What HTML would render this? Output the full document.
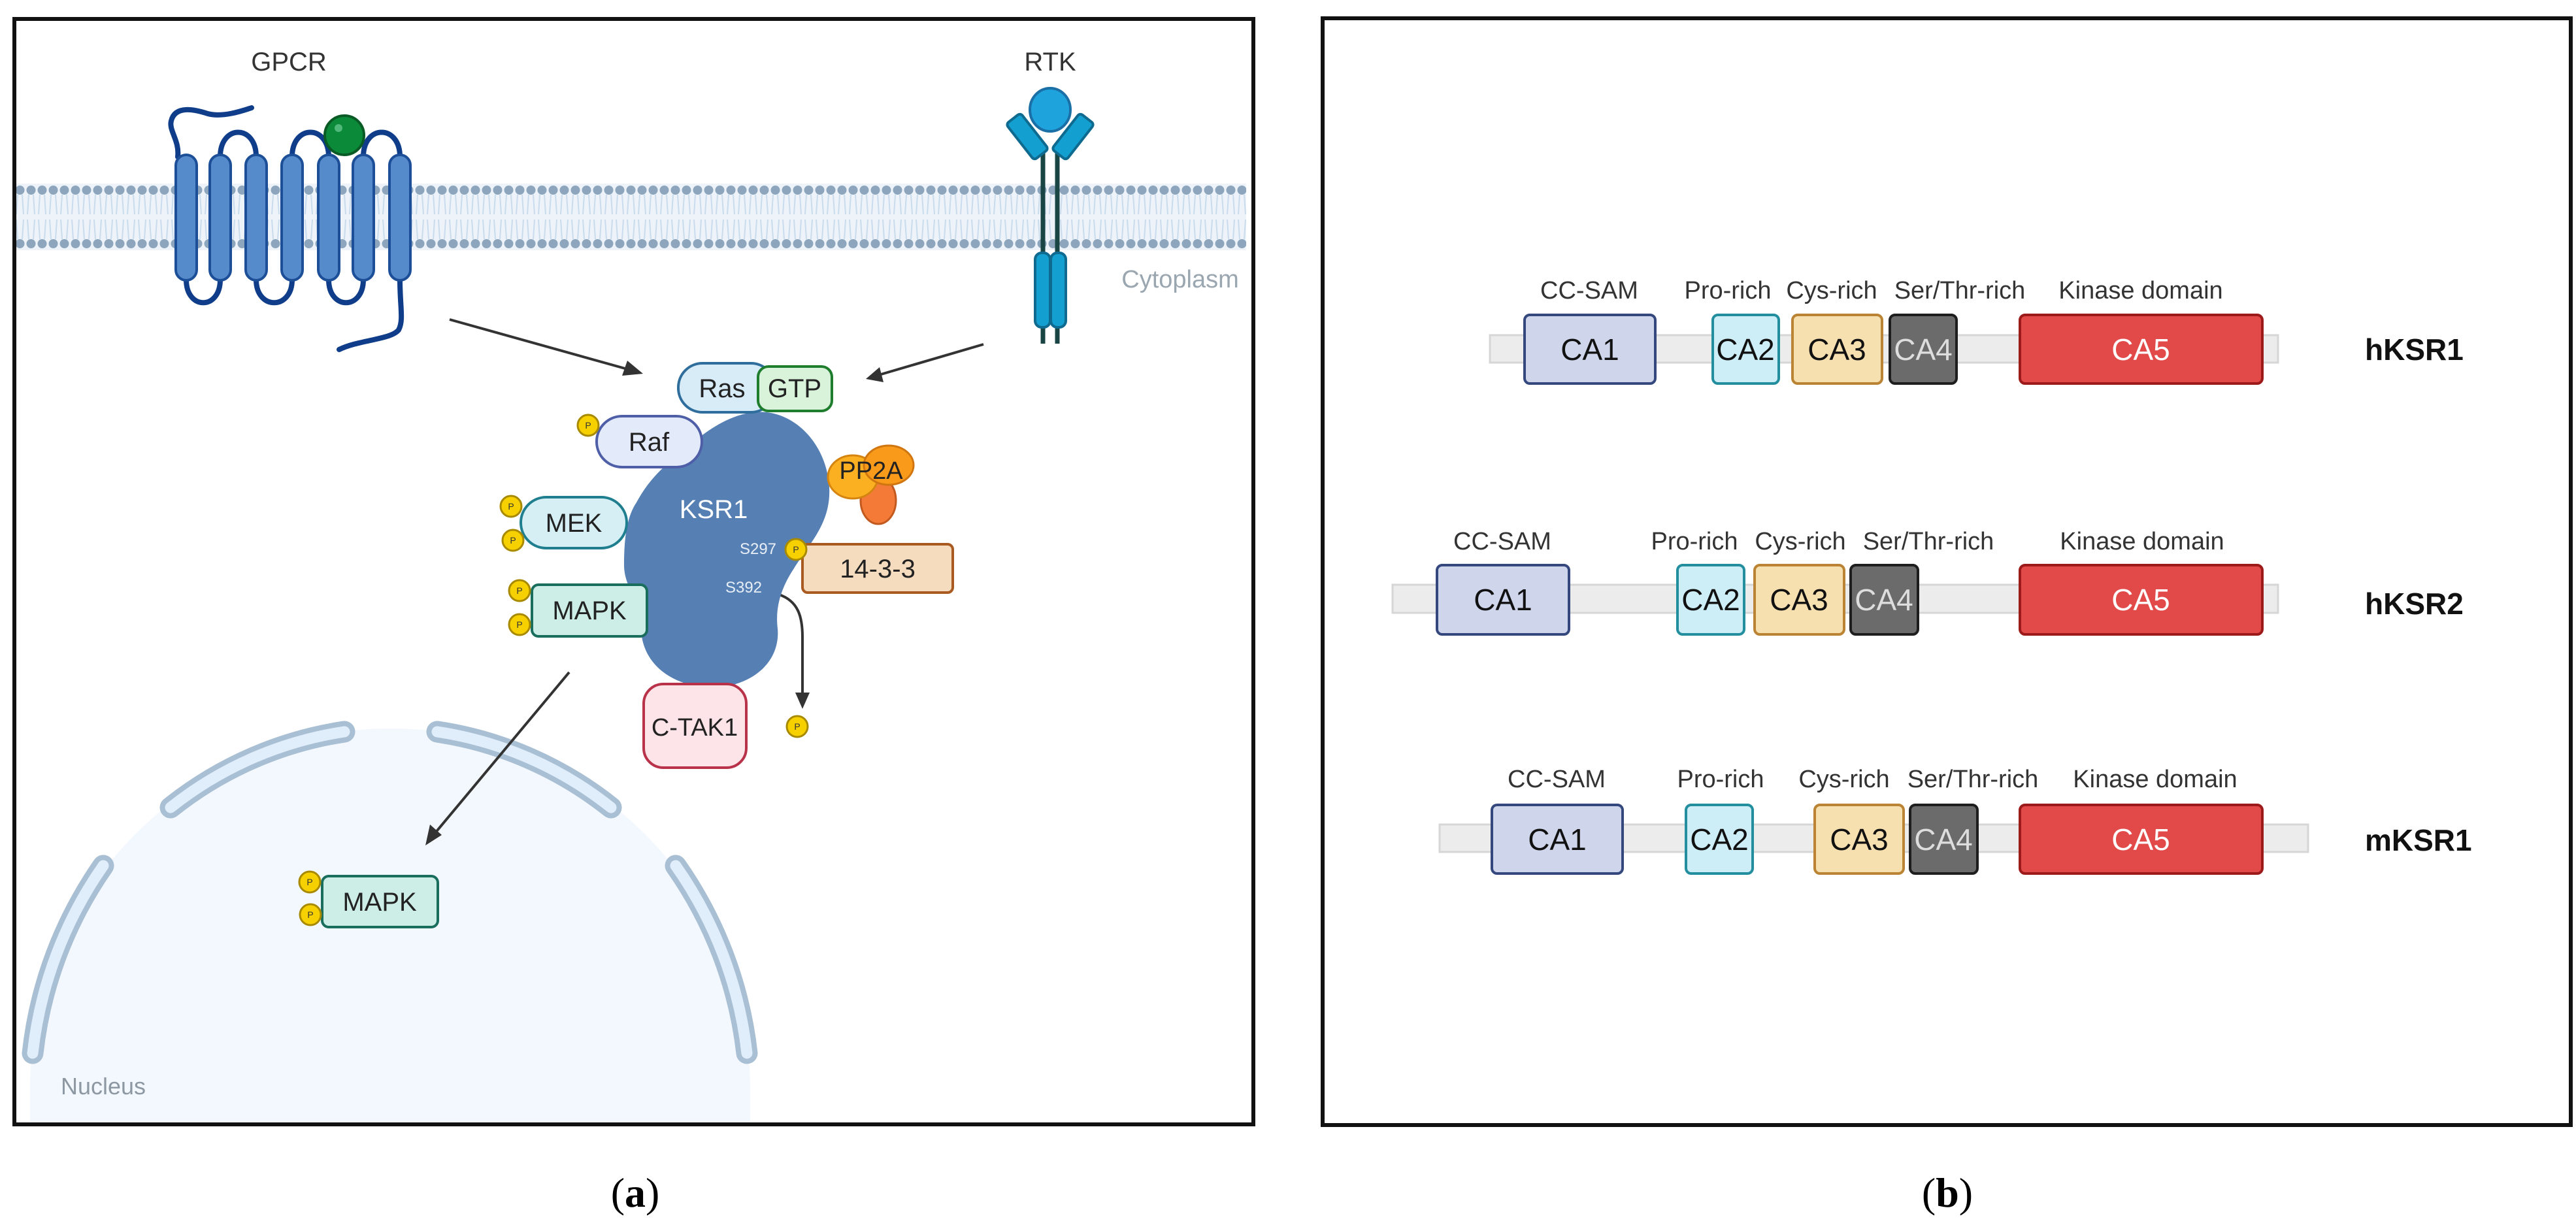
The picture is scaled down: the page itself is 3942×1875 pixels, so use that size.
<!DOCTYPE html>
<html><head><meta charset="utf-8"><style>
html,body{margin:0;padding:0;background:#fff;width:3942px;height:1875px;overflow:hidden;}
svg{display:block;}
text{font-family:"Liberation Sans",sans-serif;}
</style></head><body>
<svg width="3942" height="1875" viewBox="0 0 3942 1875" xmlns="http://www.w3.org/2000/svg">
<defs>
<pattern id="lip" x="22" y="0" width="17" height="400" patternUnits="userSpaceOnUse">
<line x1="5" y1="298" x2="3" y2="328" stroke="#c9dbec" stroke-width="2"/>
<line x1="12" y1="298" x2="14" y2="328" stroke="#c9dbec" stroke-width="2"/>
<line x1="3" y1="336" x2="5" y2="366" stroke="#c9dbec" stroke-width="2"/>
<line x1="14" y1="336" x2="12" y2="366" stroke="#c9dbec" stroke-width="2"/>
<circle cx="8.5" cy="291" r="7" fill="#8ea6bd"/>
<circle cx="8.5" cy="373" r="7" fill="#8ea6bd"/>
</pattern>
<clipPath id="lp"><rect x="22" y="29" width="1896" height="1692"/></clipPath>
</defs>

<!-- LEFT PANEL -->
<g clip-path="url(#lp)">
<rect x="22" y="29" width="1896" height="1692" fill="#fff"/>
<rect x="22" y="281" width="1885" height="102" fill="#edf3f9"/>
<rect x="22" y="281" width="1885" height="102" fill="url(#lip)"/>
<!-- nucleus -->
<circle cx="597" cy="1666" r="551" fill="#f3f8fe"/>
<rect x="46" y="1666" width="1102" height="60" fill="#f3f8fe"/>
<g fill="none" stroke-linecap="round">
<path d="M261 1236 A560 560 0 0 1 527 1120" stroke="#a9bfd3" stroke-width="33"/>
<path d="M261 1236 A560 560 0 0 1 527 1120" stroke="#e0eefb" stroke-width="17"/>
<path d="M669 1120 A560 560 0 0 1 935 1236" stroke="#a9bfd3" stroke-width="33"/>
<path d="M669 1120 A560 560 0 0 1 935 1236" stroke="#e0eefb" stroke-width="17"/>
<path d="M158 1325 A620 620 0 0 0 50 1612" stroke="#a9bfd3" stroke-width="33"/>
<path d="M158 1325 A620 620 0 0 0 50 1612" stroke="#e0eefb" stroke-width="17"/>
<path d="M1034 1325 A620 620 0 0 1 1143 1612" stroke="#a9bfd3" stroke-width="33"/>
<path d="M1034 1325 A620 620 0 0 1 1143 1612" stroke="#e0eefb" stroke-width="17"/>
</g>
</g>
<rect x="22" y="29" width="1896" height="1692" fill="none" stroke="#111" stroke-width="6"/>

<!-- GPCR -->
<text x="442" y="108" font-size="40" fill="#333" text-anchor="middle">GPCR</text>
<g fill="none" stroke="#0f3d8a" stroke-width="8" stroke-linecap="round">
<path d="M272 240 C275 215 258 200 262 185 C268 160 300 168 318 174 C340 180 370 170 385 165"/>
<path d="M337 240 C337 190 392 190 392 240"/>
<path d="M447 240 C447 190 503 190 503 240"/>
<path d="M556 240 C556 190 612 190 612 240"/>
<path d="M285 428 C285 475 337 475 337 428"/>
<path d="M392 428 C392 475 447 475 447 428"/>
<path d="M503 428 C503 475 556 475 556 428"/>
<path d="M612 428 C612 470 618 490 610 505 C598 520 550 520 519 535"/>
</g>
<g fill="#558bcb" stroke="#1d4f98" stroke-width="4">
<rect x="269" y="237" width="32" height="192" rx="16"/>
<rect x="321" y="237" width="32" height="192" rx="16"/>
<rect x="376" y="237" width="32" height="192" rx="16"/>
<rect x="431" y="237" width="32" height="192" rx="16"/>
<rect x="487" y="237" width="32" height="192" rx="16"/>
<rect x="540" y="237" width="32" height="192" rx="16"/>
<rect x="596" y="237" width="32" height="192" rx="16"/>
</g>
<circle cx="527" cy="207" r="30" fill="#0b8a3a" stroke="#0a5a26" stroke-width="4"/>
<circle cx="518" cy="196" r="6" fill="#4fb87a"/>

<!-- RTK -->
<text x="1607" y="108" font-size="40" fill="#333" text-anchor="middle">RTK</text>
<g stroke="#1a4545" stroke-width="7">
<line x1="1596" y1="225" x2="1596" y2="526"/>
<line x1="1618" y1="225" x2="1618" y2="526"/>
</g>
<g fill="#139fcf" stroke="#0f6a90" stroke-width="4">
<rect x="1537" y="195" width="70" height="28" rx="5" transform="rotate(52 1572 209)"/>
<rect x="1607" y="195" width="70" height="28" rx="5" transform="rotate(-52 1642 209)"/>
<rect x="1584" y="387" width="23" height="114" rx="10"/>
<rect x="1608" y="387" width="23" height="114" rx="10"/>
</g>
<ellipse cx="1607" cy="168" rx="31" ry="33" fill="#1fa3dc" stroke="#1a6fa6" stroke-width="4"/>
<text x="1806" y="440" font-size="38" fill="#9aa6b0" text-anchor="middle">Cytoplasm</text>

<!-- arrows -->
<g stroke="#333" stroke-width="4" fill="none">
<line x1="688" y1="489" x2="960" y2="565"/>
<line x1="1505" y1="527" x2="1348" y2="573"/>
<line x1="871" y1="1029" x2="665" y2="1276"/>
<path d="M1192 910 C1222 920 1228 945 1228 975 L1228 1065"/>
</g>
<polygon points="984,572 952,575 960,552" fill="#333"/>
<polygon points="1325,580 1346,562 1352,585" fill="#333"/>
<polygon points="651,1294 658,1262 676,1278" fill="#333"/>
<polygon points="1228,1085 1217,1060 1239,1060" fill="#333"/>

<!-- KSR1 blob -->
<path d="M1154 631 C1215 625 1265 680 1269 745 C1272 800 1240 830 1215 870 C1195 900 1186 930 1190 962 C1195 1020 1140 1055 1083 1052 C1020 1048 981 1010 981 960 C981 920 955 900 955 865 C955 820 960 790 974 769 C995 730 1020 710 1051 685 C1080 660 1115 635 1154 631 Z" fill="#5680b4"/>
<text x="1092" y="793" font-size="40" fill="#fff" text-anchor="middle">KSR1</text>
<text x="1160" y="848" font-size="24" fill="#e8eef6" text-anchor="middle">S297</text>
<text x="1138" y="907" font-size="24" fill="#e8eef6" text-anchor="middle">S392</text>

<!-- Ras GTP -->
<rect x="1038" y="556" width="148" height="75" rx="37" fill="#d8ecf8" stroke="#2f6e9c" stroke-width="4"/>
<text x="1105" y="608" font-size="40" fill="#222" text-anchor="middle">Ras</text>
<rect x="1160" y="561" width="113" height="68" rx="16" fill="#d9f2da" stroke="#1f7d2e" stroke-width="4"/>
<text x="1216" y="608" font-size="40" fill="#222" text-anchor="middle">GTP</text>
<!-- Raf -->
<rect x="913" y="637" width="161" height="78" rx="39" fill="#e3eafa" stroke="#4e5fa8" stroke-width="4"/>
<text x="993" y="690" font-size="40" fill="#222" text-anchor="middle">Raf</text>
<!-- PP2A -->
<ellipse cx="1344" cy="766" rx="27" ry="36" fill="#f47a38" stroke="#c25a20" stroke-width="3"/>
<ellipse cx="1305" cy="730" rx="38" ry="33" fill="#fbb021" stroke="#d58410" stroke-width="3"/>
<ellipse cx="1360" cy="712" rx="38" ry="30" fill="#f99a1a" stroke="#d07610" stroke-width="3"/>
<text x="1333" y="733" font-size="38" fill="#222" text-anchor="middle">PP2A</text>
<!-- MEK -->
<rect x="797" y="761" width="162" height="78" rx="39" fill="#d6eff5" stroke="#1f7f8e" stroke-width="4"/>
<text x="878" y="814" font-size="40" fill="#222" text-anchor="middle">MEK</text>
<!-- MAPK -->
<rect x="814" y="895" width="176" height="79" rx="10" fill="#cdeee6" stroke="#1a6e5e" stroke-width="4"/>
<text x="902" y="948" font-size="40" fill="#222" text-anchor="middle">MAPK</text>
<!-- 14-3-3 -->
<rect x="1228" y="833" width="230" height="74" rx="8" fill="#f6dcbf" stroke="#a85a20" stroke-width="4"/>
<text x="1343" y="884" font-size="40" fill="#222" text-anchor="middle">14-3-3</text>
<!-- C-TAK1 -->
<rect x="985" y="1047" width="157" height="128" rx="30" fill="#fde4e8" stroke="#b8324a" stroke-width="4"/>
<text x="1063" y="1126" font-size="38" fill="#222" text-anchor="middle">C-TAK1</text>
<!-- nucleus MAPK -->
<rect x="493" y="1341" width="177" height="78" rx="10" fill="#cdeee6" stroke="#1a6e5e" stroke-width="4"/>
<text x="581" y="1394" font-size="40" fill="#222" text-anchor="middle">MAPK</text>
<text x="158" y="1675" font-size="36" fill="#8e98a2" text-anchor="middle">Nucleus</text>

<!-- P circles -->
<g fill="#f7d000" stroke="#a88a00" stroke-width="3">
<circle cx="900" cy="651" r="16"/><circle cx="782" cy="775" r="16"/><circle cx="785" cy="827" r="16"/>
<circle cx="795" cy="904" r="16"/><circle cx="795" cy="956" r="16"/><circle cx="1218" cy="841" r="16"/>
<circle cx="1220" cy="1112" r="16"/><circle cx="474" cy="1350" r="16"/><circle cx="475" cy="1400" r="16"/>
</g>
<g font-size="14" fill="#333" text-anchor="middle">
<text x="900" y="656">P</text><text x="782" y="780">P</text><text x="785" y="832">P</text>
<text x="795" y="909">P</text><text x="795" y="961">P</text><text x="1218" y="846">P</text>
<text x="1220" y="1117">P</text><text x="474" y="1355">P</text><text x="475" y="1405">P</text>
</g>

<text x="972" y="1847" font-size="64" fill="#000" text-anchor="middle" style="font-family:'Liberation Serif',serif">(<tspan font-weight="bold">a</tspan>)</text>

<!-- RIGHT PANEL -->
<rect x="2024" y="28" width="1910" height="1694" fill="#fff" stroke="#111" stroke-width="6"/>
<g stroke-width="4">
<rect x="2280" y="513" width="1206" height="42" fill="#ececec" stroke="#d6d6d6" stroke-width="3"/>
<rect x="2333" y="482" width="200" height="105" rx="8" fill="#cfd6ec" stroke="#34487e"/>
<rect x="2621" y="482" width="101" height="105" rx="8" fill="#cdeef6" stroke="#228e9e"/>
<rect x="2743" y="482" width="137" height="105" rx="8" fill="#f7e0b0" stroke="#bb8434"/>
<rect x="2892" y="482" width="102" height="105" rx="8" fill="#6b6b6b" stroke="#1e1e1e"/>
<rect x="3091" y="482" width="371" height="105" rx="8" fill="#e24a4a" stroke="#9c1a1a"/>
<rect x="2131" y="895" width="1355" height="43" fill="#ececec" stroke="#d6d6d6" stroke-width="3"/>
<rect x="2199" y="865" width="202" height="106" rx="8" fill="#cfd6ec" stroke="#34487e"/>
<rect x="2567" y="865" width="102" height="106" rx="8" fill="#cdeef6" stroke="#228e9e"/>
<rect x="2685" y="865" width="137" height="106" rx="8" fill="#f7e0b0" stroke="#bb8434"/>
<rect x="2832" y="865" width="103" height="106" rx="8" fill="#6b6b6b" stroke="#1e1e1e"/>
<rect x="3091" y="865" width="371" height="106" rx="8" fill="#e24a4a" stroke="#9c1a1a"/>
<rect x="2203" y="1262" width="1329" height="42" fill="#ececec" stroke="#d6d6d6" stroke-width="3"/>
<rect x="2283" y="1232" width="200" height="105" rx="8" fill="#cfd6ec" stroke="#34487e"/>
<rect x="2580" y="1232" width="102" height="105" rx="8" fill="#cdeef6" stroke="#228e9e"/>
<rect x="2777" y="1232" width="136" height="105" rx="8" fill="#f7e0b0" stroke="#bb8434"/>
<rect x="2923" y="1232" width="103" height="105" rx="8" fill="#6b6b6b" stroke="#1e1e1e"/>
<rect x="3091" y="1232" width="371" height="105" rx="8" fill="#e24a4a" stroke="#9c1a1a"/>
</g>
<g font-size="46" text-anchor="middle" fill="#111">
<text x="2433" y="551">CA1</text><text x="2671" y="551">CA2</text><text x="2811" y="551">CA3</text>
<text x="2943" y="551" fill="#ddd">CA4</text><text x="3276" y="551" fill="#fff">CA5</text>
<text x="2300" y="934">CA1</text><text x="2618" y="934">CA2</text><text x="2753" y="934">CA3</text>
<text x="2883" y="934" fill="#ddd">CA4</text><text x="3276" y="934" fill="#fff">CA5</text>
<text x="2383" y="1301">CA1</text><text x="2631" y="1301">CA2</text><text x="2845" y="1301">CA3</text>
<text x="2974" y="1301" fill="#ddd">CA4</text><text x="3276" y="1301" fill="#fff">CA5</text>
</g>
<g font-size="38" text-anchor="middle" fill="#333">
<text x="2432" y="457">CC-SAM</text><text x="2644" y="457">Pro-rich</text><text x="2803" y="457">Cys-rich</text>
<text x="2999" y="457">Ser/Thr-rich</text><text x="3276" y="457">Kinase domain</text>
<text x="2299" y="841">CC-SAM</text><text x="2593" y="841">Pro-rich</text><text x="2755" y="841">Cys-rich</text>
<text x="2951" y="841">Ser/Thr-rich</text><text x="3278" y="841">Kinase domain</text>
<text x="2382" y="1205">CC-SAM</text><text x="2633" y="1205">Pro-rich</text><text x="2822" y="1205">Cys-rich</text>
<text x="3019" y="1205">Ser/Thr-rich</text><text x="3298" y="1205">Kinase domain</text>
</g>
<g font-size="46" font-weight="bold" fill="#111">
<text x="3619" y="551">hKSR1</text>
<text x="3619" y="940">hKSR2</text>
<text x="3619" y="1302">mKSR1</text>
</g>
<text x="2980" y="1847" font-size="64" fill="#000" text-anchor="middle" style="font-family:'Liberation Serif',serif">(<tspan font-weight="bold">b</tspan>)</text>
</svg>
</body></html>
